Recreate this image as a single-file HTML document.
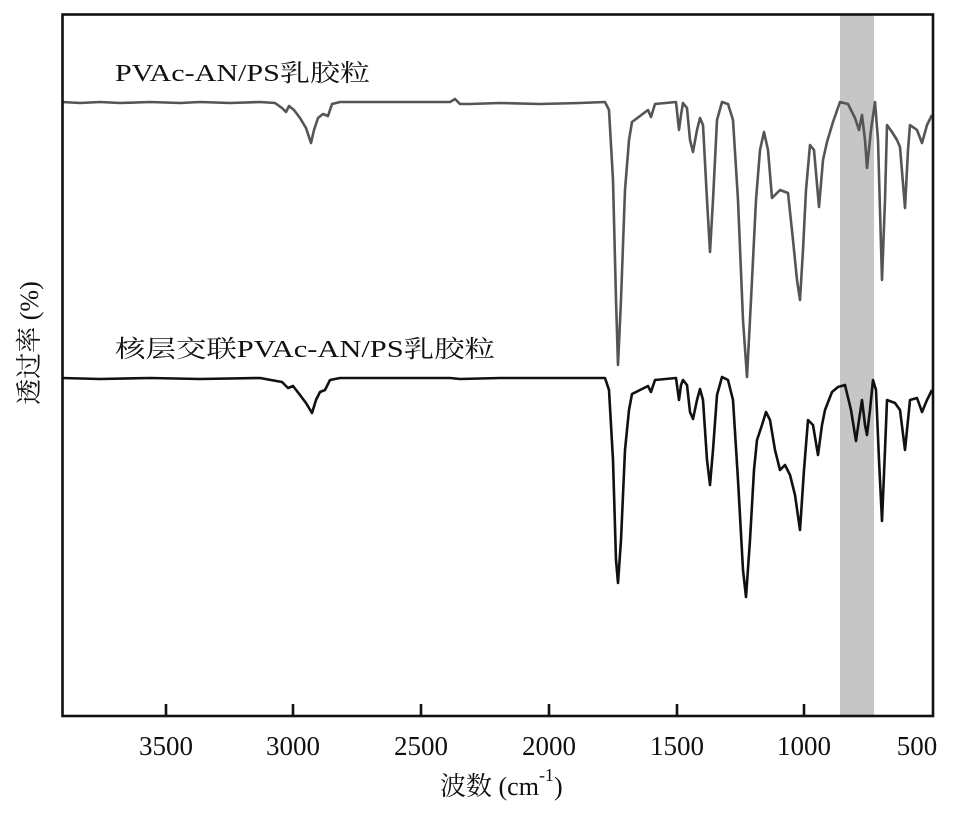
<!DOCTYPE html>
<html><head><meta charset="utf-8"><style>
html,body{margin:0;padding:0;background:#fff;}
svg{display:block;}
text{font-family:"Liberation Serif","Noto Serif CJK SC","Noto Sans CJK SC",serif;fill:#111;}
</style></head><body>
<svg width="968" height="818" viewBox="0 0 968 818" xmlns="http://www.w3.org/2000/svg">
<rect x="0" y="0" width="968" height="818" fill="#fff"/>
<rect x="840" y="15" width="34" height="700" fill="#c6c6c6"/>
<polyline fill="none" stroke="#555" stroke-width="2.6" stroke-linejoin="round" points="62,102 80,103 100,102 120,103 150,102 180,103 200,102 230,103 260,102 275,103 282,108 286,112 289,106 294,110 300,118 306,128 311,143 314,130 318,118 323,114 328,116 332,104 340,102 400,102 450,102 455,99 460,104 470,104 500,103 540,104 580,103 605,102 609,110 613,180 616,300 618,365 621,300 625,190 629,140 632,122 640,116 648,110 651,117 655,104 676,102 679,130 681,115 683,103 687,108 690,140 693,152 697,130 700,118 703,125 707,200 710,252 713,200 717,120 722,102 728,104 733,120 738,200 743,320 747,377 751,300 756,200 760,150 764,132 768,150 772,198 780,190 788,193 793,240 797,280 800,300 803,250 806,190 810,145 814,150 819,207 823,160 827,142 833,122 840,102 848,104 855,118 859,130 862,115 865,140 867,168 871,130 875,102 878,140 882,280 885,200 887,125 892,132 897,140 900,147 905,208 908,150 910,125 917,130 922,143 927,125 932,115"/>
<polyline fill="none" stroke="#111" stroke-width="2.6" stroke-linejoin="round" points="62,378 100,379 150,378 200,379 260,378 282,382 288,388 293,386 300,395 306,403 312,413 316,400 320,392 325,390 330,380 340,378 450,378 460,379 500,378 605,378 609,390 613,460 616,560 618,583 621,540 625,450 629,410 632,394 640,390 648,386 651,392 655,380 676,378 679,400 681,385 683,380 687,385 690,412 693,419 697,400 700,389 703,400 707,460 710,485 713,450 717,395 722,377 728,380 733,400 738,480 743,570 746,597 750,540 754,470 757,440 762,425 766,412 770,420 775,450 780,470 785,465 790,475 795,495 800,530 804,470 808,420 813,425 818,455 822,425 825,410 832,392 838,387 845,385 851,410 856,441 859,420 862,400 865,425 867,435 870,410 873,380 876,390 879,460 882,521 885,450 887,400 895,403 900,410 905,450 907,430 910,400 917,398 922,412 927,400 932,390"/>
<rect x="62.5" y="14.5" width="870.5" height="701.5" fill="none" stroke="#111" stroke-width="2.6"/>
<g stroke="#111" stroke-width="2.6">
<line x1="166" y1="716" x2="166" y2="704"/>
<line x1="293" y1="716" x2="293" y2="704"/>
<line x1="421" y1="716" x2="421" y2="704"/>
<line x1="549" y1="716" x2="549" y2="704"/>
<line x1="677" y1="716" x2="677" y2="704"/>
<line x1="804" y1="716" x2="804" y2="704"/>
</g>
<g font-size="27" text-anchor="middle">
<text x="166" y="755">3500</text>
<text x="293" y="755">3000</text>
<text x="421" y="755">2500</text>
<text x="549" y="755">2000</text>
<text x="677" y="755">1500</text>
<text x="804" y="755">1000</text>
<text x="917" y="755">500</text>
</g>
<text x="440" y="795" font-size="26">波数 (cm<tspan font-size="18" dy="-14">-1</tspan><tspan dy="14">)</tspan></text>
<text transform="translate(38,343) rotate(-90)" font-size="26" text-anchor="middle">透过率 (%)</text>
<text x="115" y="81" font-size="24" textLength="255" lengthAdjust="spacingAndGlyphs">PVAc-AN/PS乳胶粒</text>
<text x="115" y="357" font-size="24" textLength="380" lengthAdjust="spacingAndGlyphs">核层交联PVAc-AN/PS乳胶粒</text>
</svg>
</body></html>
